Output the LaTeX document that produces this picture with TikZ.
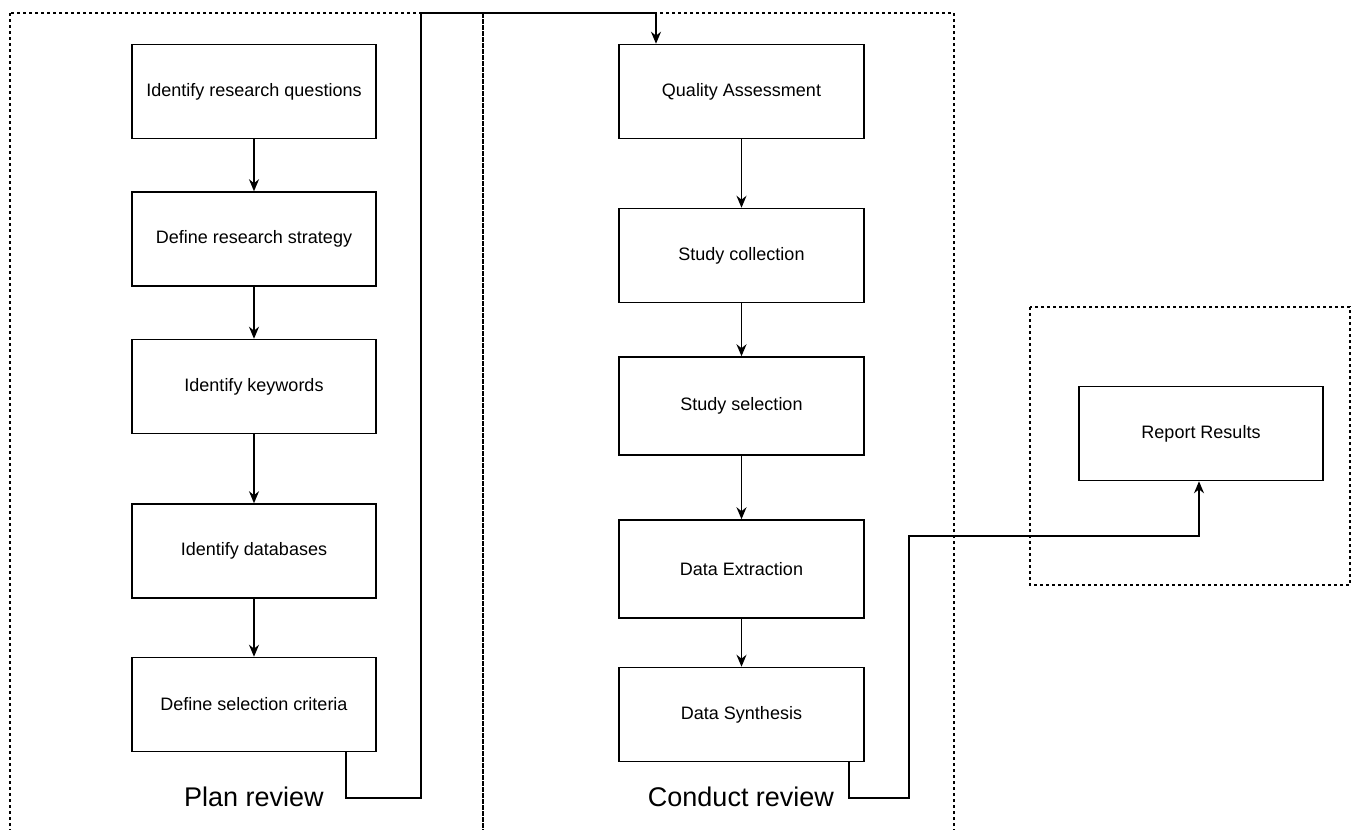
\documentclass[tikz,border=0pt]{standalone}
\usepackage{fontspec}
\setmainfont{Liberation Sans}
\usetikzlibrary{arrows.meta}

\begin{document}
\begin{tikzpicture}[x=1pt,y=-1pt,
  stepbox/.style={draw,line width=1.5pt,minimum width=244pt,minimum height=94pt,
    inner sep=0pt,font=\fontsize{18}{21}\selectfont},
  phase/.style={draw,line width=1.3pt,dash pattern=on 3pt off 3pt},
  phaselabel/.style={font=\fontsize{27}{30}\selectfont},
  link/.style={line width=1.4pt,-{Stealth[length=12pt,width=10pt]}}]
\useasboundingbox (0,0) rectangle (1355,830);
\clip (0,0) rectangle (1355,830);
% phase frames
\draw[phase] (10,13) rectangle (483,850);
\draw[phase] (483,13) rectangle (954,850);
\draw[phase] (1030,307) rectangle (1350,585);
\node[phaselabel] (plan) at (254,797) {Plan review};
\node[phaselabel] (conduct) at (741,797) {Conduct review};
% plan review
\draw (254,91.5) node[stepbox] (p1) {Identify research questions};
\draw (254,239) node[stepbox] (p2) {Define research strategy};
\draw (254,386.5) node[stepbox] (p3) {Identify keywords};
\draw (254,551) node[stepbox] (p4) {Identify databases};
\draw (254,704.5) node[stepbox] (p5) {Define selection criteria};
\path[link] (p1) edge (p2);
\path[link] (p2) edge (p3);
\path[link] (p3) edge (p4);
\path[link] (p4) edge (p5);
% conduct review
\draw (741.5,91.5) node[stepbox,minimum width=245pt] (c1) {Quality Assessment};
\draw (741.5,255.5) node[stepbox,minimum width=245pt] (c2) {Study collection};
\draw (741.5,406) node[stepbox,minimum width=245pt,minimum height=98pt] (c3) {Study selection};
\draw (741.5,569) node[stepbox,minimum width=245pt,minimum height=98pt] (c4) {Data Extraction};
\draw (741.5,714.5) node[stepbox,minimum width=245pt] (c5) {Data Synthesis};
\path[link] (c1) edge (c2);
\path[link] (c2) edge (c3);
\path[link] (c3) edge (c4);
\path[link] (c4) edge (c5);
% report
\draw (1201,433.5) node[stepbox] (r1) {Report Results};
% phase to phase
\coordinate (a1) at (346,798);
\coordinate (a2) at (421,798);
\coordinate (a3) at (421,13);
\coordinate (a4) at (656,13);
\draw[link] (p5.south -| a1) -- (a1) -- (a2) -- (a3) -- (a4) -- (c1.north -| a4);
\coordinate (b1) at (849,798);
\coordinate (b2) at (909,798);
\coordinate (b3) at (909,536);
\coordinate (b4) at (1199,536);
\draw[link] (c5.south -| b1) -- (b1) -- (b2) -- (b3) -- (b4) -- (r1.south -| b4);
\end{tikzpicture}
\end{document}
